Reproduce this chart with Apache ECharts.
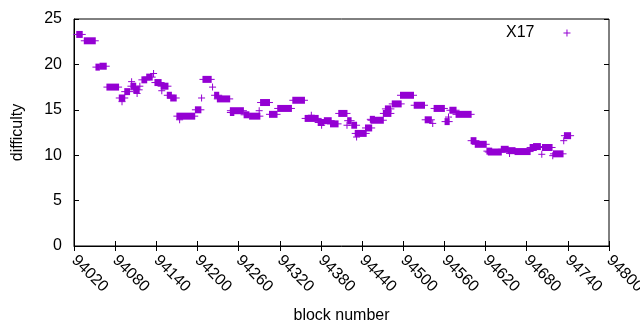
<!DOCTYPE html>
<html>
<head>
<meta charset="utf-8">
<script src="https://cdn.jsdelivr.net/npm/echarts@6/dist/echarts.min.js"></script>
<style>html,body{margin:0;padding:0;background:#fff}#c{width:640px;height:330px}</style>
</head>
<body>
<div id="c"></div>
<script>
// Runs of consecutive blocks sharing one difficulty (start block, end block, value)
const runStart = [94024,94035,94052,94058,94068,94086,94090,94094,94104,94103,94107,94112,94116,94119,94126,94136,94138,94147,94148,94156,94161,94170,94174,94197,94206,94208,94222,94225,94229,94248,94248,94268,94276,94290,94292,94305,94317,94339,94357,94366,94376,94381,94385,94394,94406,94418,94419,94425,94430,94432,94445,94452,94453,94471,94474,94484,94496,94516,94532,94543,94545,94561,94566,94568,94577,94599,94605,94622,94624,94643,94653,94655,94663,94685,94690,94702,94703,94718,94719,94734,94735];
const runEnd   = [94032,94051,94057,94067,94085,94094,94090,94101,94104,94110,94115,94112,94116,94126,94134,94136,94147,94157,94148,94162,94169,94196,94174,94205,94206,94220,94222,94231,94247,94267,94253,94275,94291,94290,94305,94316,94337,94356,94376,94366,94384,94381,94395,94405,94418,94418,94424,94432,94446,94432,94454,94458,94471,94482,94482,94497,94515,94531,94541,94543,94560,94567,94566,94577,94599,94606,94621,94629,94643,94653,94663,94655,94685,94694,94700,94702,94717,94718,94733,94734,94744];
const runValue = [23.3,22.6,19.7,19.8,17.5,16.3,15.9,17.0,18.1,17.6,17.2,16.8,17.6,18.3,18.6,19.0,18.0,17.6,17.1,16.6,16.3,14.3,13.9,15.0,16.3,18.35,17.5,16.6,16.2,14.9,14.7,14.45,14.3,14.9,15.8,14.5,15.15,16.05,14.05,14.4,13.6,13.3,13.8,13.45,14.6,13.3,13.8,13.3,12.4,12.0,13.0,13.95,13.85,14.6,15.1,15.65,16.6,15.5,13.9,13.5,15.15,13.7,14.2,14.95,14.5,11.6,11.2,10.45,10.35,10.65,10.5,10.2,10.4,10.85,10.95,10.1,10.85,9.95,10.15,11.6,12.15];
const seriesName = 'X17';
const xMin = 94020, xMax = 94800, xStep = 60;
const yMin = 0, yMax = 25, yStep = 5;

const COLOR = '#9400d3';
const FONT = 'Liberation Sans';
const data = runStart.map((s, i) => [s, runEnd[i], runValue[i]]);

const chart = echarts.init(document.getElementById('c'), null, {renderer: 'canvas'});
const tickStyle = {show: true, inside: true, length: 5, lineStyle: {color: '#000', width: 1}};
chart.setOption({
  animation: false,
  backgroundColor: '#fff',
  textStyle: {fontFamily: FONT},
  grid: {left: 74, right: 31, top: 19, bottom: 84, containLabel: false, outerBoundsMode: 'none',
         show: true, borderColor: '#000', borderWidth: 1, backgroundColor: 'transparent'},
  legend: {
    show: true, left: 506, top: 25, padding: 0, align: 'right', itemWidth: 7, itemHeight: 7, itemGap: 0,
    data: [{name: seriesName, icon: 'path://M0,3H7V4H0Z M3,0H4V7H3Z', itemStyle: {color: COLOR}}],
    formatter: n => '{a|' + n + '}',
    textStyle: {fontFamily: FONT, fontSize: 16, color: '#000', rich: {a: {fontFamily: FONT, fontSize: 16, color: '#000', padding: [0, 24, 0, 0]}}}
  },
  xAxis: [{
    type: 'value', min: xMin, max: xMax, interval: xStep, position: 'bottom',
    name: 'block number', nameLocation: 'middle', nameGap: 62,
    nameTextStyle: {fontFamily: FONT, fontSize: 16, color: '#000'},
    axisLine: {show: true, lineStyle: {color: '#000'}},
    axisTick: tickStyle, splitLine: {show: false},
    axisLabel: {rotate: -45, margin: 12, fontFamily: FONT, fontSize: 16, color: '#000', formatter: v => String(v)}
  }, {
    type: 'value', min: xMin, max: xMax, interval: xStep, position: 'top',
    axisLine: {show: false}, axisTick: tickStyle, axisLabel: {show: false}, splitLine: {show: false}
  }],
  yAxis: [{
    type: 'value', min: yMin, max: yMax, interval: yStep, position: 'left',
    name: 'difficulty', nameLocation: 'middle', nameGap: 48, nameRotate: 90,
    nameTextStyle: {fontFamily: FONT, fontSize: 16, color: '#000'},
    axisLine: {show: true, lineStyle: {color: '#000'}},
    axisTick: tickStyle, splitLine: {show: false},
    axisLabel: {margin: 12, fontFamily: FONT, fontSize: 16, color: '#000'}
  }, {
    type: 'value', min: yMin, max: yMax, interval: yStep, position: 'right',
    axisLine: {show: false}, axisTick: tickStyle, axisLabel: {show: false}, splitLine: {show: false}
  }],
  series: [{
    name: seriesName, type: 'custom', xAxisIndex: 0, yAxisIndex: 0,
    itemStyle: {color: COLOR},
    encode: {x: [0, 1], y: 2},
    data: data,
    renderItem: function (params, api) {
      const s = api.coord([api.value(0), api.value(2)]);
      const e = api.coord([api.value(1), api.value(2)]);
      const h = 3.5;
      return {
        type: 'group',
        children: [
          {type: 'rect', shape: {x: s[0] - 0.5, y: s[1] - h, width: e[0] - s[0] + 1, height: 2 * h}, style: {fill: COLOR}},
          {type: 'line', shape: {x1: s[0] - h, y1: s[1], x2: e[0] + h, y2: s[1]}, style: {stroke: COLOR, lineWidth: 1}}
        ]
      };
    }
  }]
});
</script>
</body>
</html>
